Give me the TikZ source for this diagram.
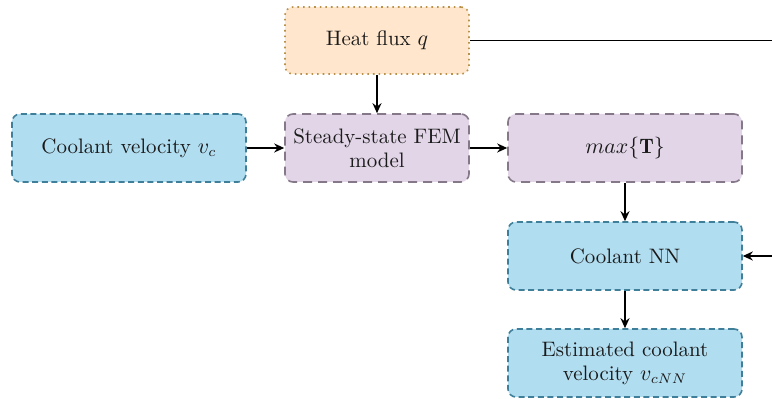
\documentclass[tikz,border=0pt]{standalone}
\usepackage{fontspec}
\usetikzlibrary{arrows.meta}
\definecolor{orfill}{HTML}{FFE6CC}
\definecolor{ordraw}{HTML}{B8924A}
\definecolor{pufill}{HTML}{E1D5E7}
\definecolor{pudraw}{HTML}{857889}
\definecolor{blfill}{HTML}{B1DDF0}
\definecolor{bldraw}{HTML}{3F7F99}
\definecolor{txt}{HTML}{1A1A1A}
\tikzset{
  box/.style={rectangle, rounded corners=4bp, align=center, line width=0.8bp,
    font=\rmfamily\fontsize{10.5}{12}\selectfont, text=txt, inner sep=2bp},
  heatbox/.style={box, fill=orfill, draw=ordraw, dotted,
    minimum width=92bp, minimum height=33.5bp},
  fembox/.style={box, fill=pufill, draw=pudraw, dash pattern=on 4.5bp off 3bp,
    minimum width=92bp, minimum height=34bp},
  maxbox/.style={box, fill=pufill, draw=pudraw, dash pattern=on 4.5bp off 3bp,
    minimum width=117bp, minimum height=34bp},
  coolbox/.style={box, fill=blfill, draw=bldraw, dash pattern=on 3bp off 1.8bp,
    minimum width=117bp, minimum height=34bp},
  link/.style={line width=0.9bp, -{Stealth[length=5bp,width=4.5bp]}},
  plain/.style={line width=0.9bp}
}
\begin{document}
\begin{tikzpicture}[x=0.5bp, y=-0.5bp]
  \useasboundingbox (0,0) rectangle (772,399);
  % blocks
  \node[heatbox] (heat) at (377,40.5) {Heat flux $q$};
  \node[coolbox] (vel) at (129,148) {Coolant velocity $v_c$};
  \node[fembox] (fem) at (377,148) {Steady-state FEM\\model};
  \node[maxbox] (tmax) at (625,148) {$max\{\mathbf{T}\}$};
  \node[coolbox] (nn) at (625,256) {Coolant NN};
  \node[coolbox] (est) at (625,363) {Estimated coolant\\velocity $v_{cNN}$};
  % feedback line leaving and re-entering at the right edge
  \coordinate (outR) at (772,40.5);
  \coordinate (inR) at (772,256);
  % connectors
  \draw[link] (heat) -- (fem);
  \draw[link] (vel) -- (fem);
  \draw[link] (fem) -- (tmax);
  \draw[link] (tmax) -- (nn);
  \draw[link] (nn) -- (est);
  \draw[plain] (heat.east) -- (outR);
  \draw[link] (inR) -- (nn.east);
\end{tikzpicture}
\end{document}
